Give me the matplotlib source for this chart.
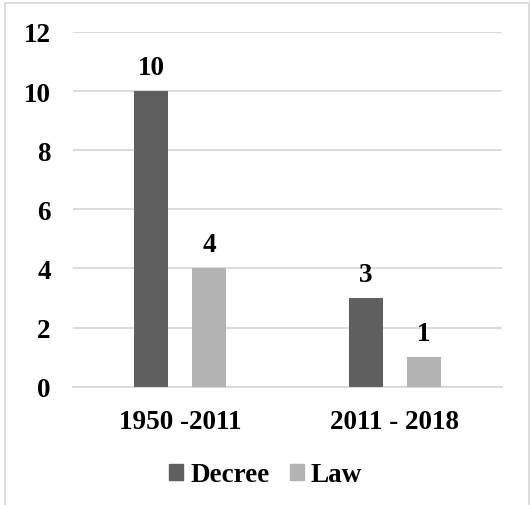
import matplotlib
matplotlib.use("Agg")
import matplotlib.pyplot as plt
from matplotlib.patches import Patch, Rectangle
import numpy as np

categories = ["1950 -2011", "2011 - 2018"]
decree = [10, 3]
law = [4, 1]
series_names = ["Decree", "Law"]
yticks = [0, 2, 4, 6, 8, 10, 12]

plt.rcParams['font.family'] = ['Liberation Serif', 'DejaVu Serif']
plt.rcParams['font.weight'] = 'bold'

FS = 19.5
W, H = 531, 506
fig = plt.figure(figsize=(W/100, H/100), dpi=100)
ax = fig.add_axes([73/W, 1-387.6/H, (502-73)/W, (387.6-33)/H])

c_dec = '#5f5f5f'
c_law = '#b3b3b3'
x = np.arange(len(categories))
bw = 0.159
off = 0.136
b1 = ax.bar(x-off, decree, bw, color=c_dec, zorder=3)
b2 = ax.bar(x+off, law, bw, color=c_law, zorder=3)

for bars, vals in ((b1, decree), (b2, law)):
    for r, v in zip(bars, vals):
        ax.annotate(str(v), (r.get_x()+r.get_width()/2, v), xytext=(0, 8),
                    textcoords='offset points', ha='center', va='bottom',
                    fontsize=FS, fontweight='bold')

ax.set_xlim(-0.5, 1.5)
ax.set_ylim(0, 12)
ax.set_yticks(yticks)
ax.set_yticklabels([str(t) for t in yticks], fontsize=FS, fontweight='bold')
ax.set_xticks(x)
ax.set_xticklabels(categories, fontsize=FS, fontweight='bold')
ax.tick_params(axis='y', length=0, pad=16)
ax.tick_params(axis='x', length=0, pad=16)
ax.grid(axis='y', color='#d9d9d9', linewidth=1.3, zorder=0)
for s in ['top', 'right', 'left']:
    ax.spines[s].set_visible(False)
ax.spines['bottom'].set_color('#d9d9d9')
ax.spines['bottom'].set_linewidth(1.3)

handles = [Patch(color=c_dec), Patch(color=c_law)]
fig.legend(handles, series_names, loc='center', bbox_to_anchor=(0.5, 1-476/H),
           ncol=2, frameon=False, handlelength=0.52, handleheight=0.52,
           handletextpad=0.25, columnspacing=0.75,
           prop={'family': 'Liberation Serif', 'weight': 'bold', 'size': FS})

fig.patches.append(Rectangle((5/W, -0.05), (529-5)/W, 1.05-4/H, transform=fig.transFigure,
                             fill=False, edgecolor='#d9d9d9', linewidth=1.3))

fig.savefig('out.png', dpi=100)
